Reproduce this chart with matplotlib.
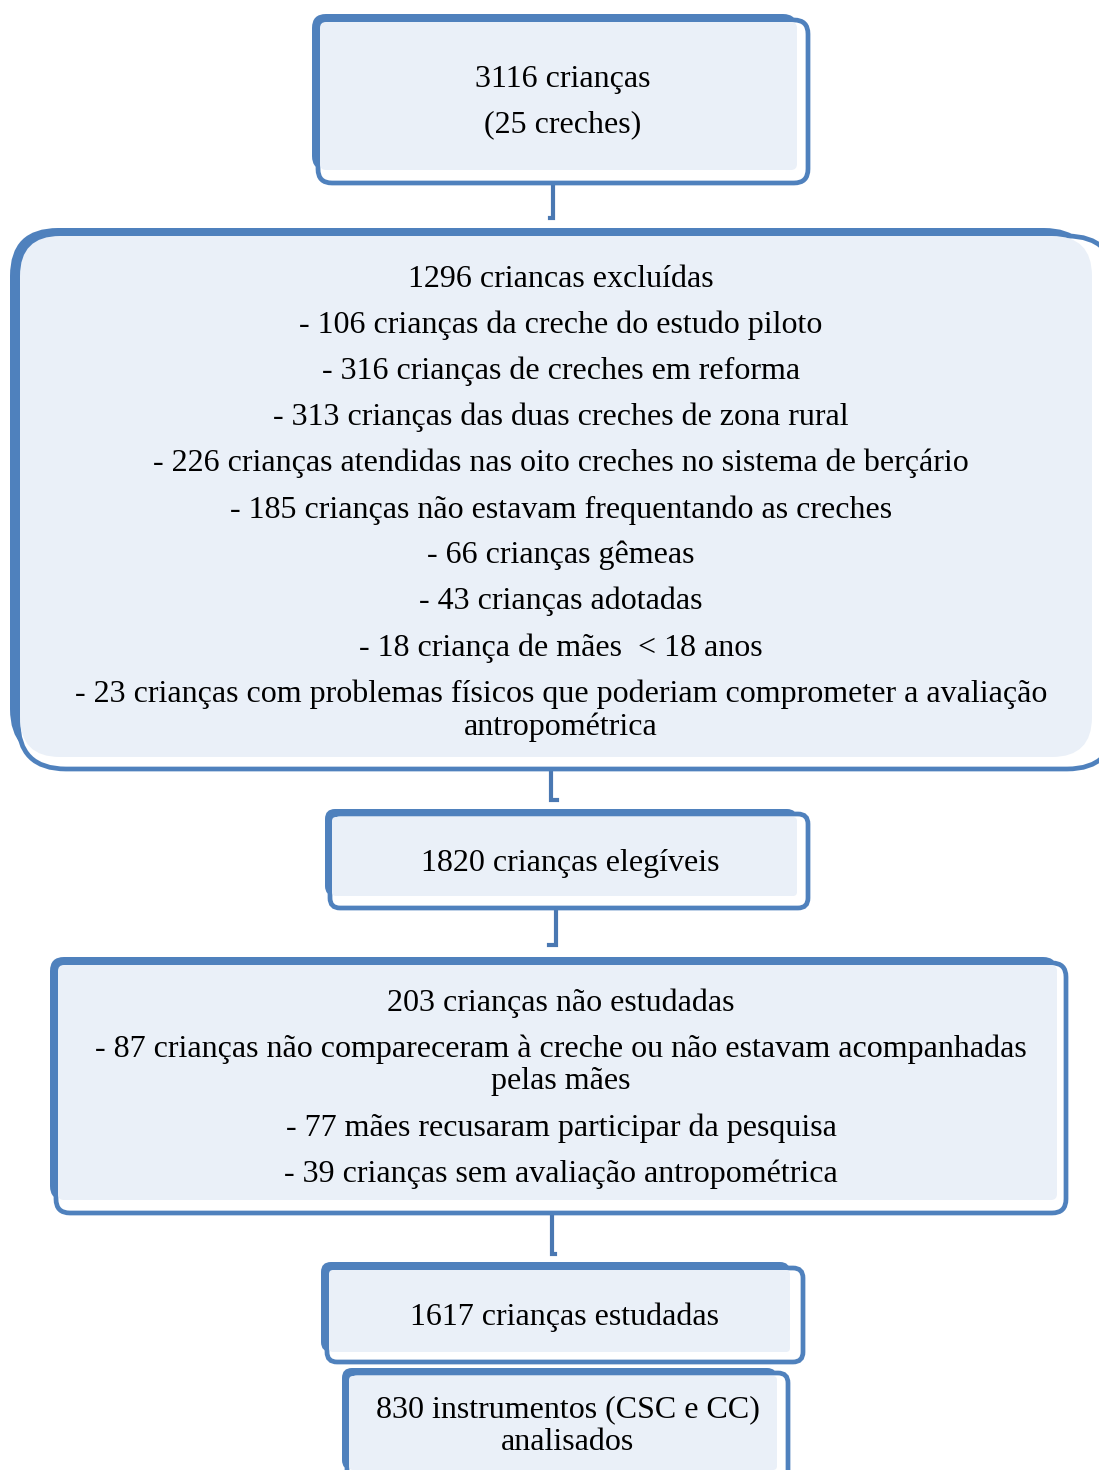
import matplotlib.pyplot as plt
from matplotlib.patches import FancyBboxPatch

plt.rcParams['font.family'] = ['Liberation Serif', 'DejaVu Serif']

AZUL = '#4F81BD'
FUNDO = '#EAF0F8'

# textos de cada caixa, linha a linha
caixa1 = ['3116 crianças', '(25 creches)']
caixa2 = ['1296 criancas excluídas',
          '- 106 crianças da creche do estudo piloto',
          '- 316 crianças de creches em reforma',
          '- 313 crianças das duas creches de zona rural',
          '- 226 crianças atendidas nas oito creches no sistema de berçário',
          '- 185 crianças não estavam frequentando as creches',
          '- 66 crianças gêmeas',
          '- 43 crianças adotadas',
          '- 18 criança de mães  < 18 anos',
          '- 23 crianças com problemas físicos que poderiam comprometer a avaliação',
          'antropométrica']
caixa3 = ['1820 crianças elegíveis']
caixa4 = ['203 crianças não estudadas',
          '- 87 crianças não compareceram à creche ou não estavam acompanhadas',
          'pelas mães',
          '- 77 mães recusaram participar da pesquisa',
          '- 39 crianças sem avaliação antropométrica']
caixa5 = ['1617 crianças estudadas']
caixa6 = ['830 instrumentos (CSC e CC)', 'analisados']

# y (px) de cada linha
y1 = [79, 125]
y2 = [279, 325, 371, 417, 463, 510, 555, 601, 648, 694, 727]
y3 = [863]
y4 = [1003, 1049, 1082, 1128, 1174]
y5 = [1317]
y6 = [1410, 1443]

fig = plt.figure(figsize=(10.99, 14.70), dpi=100)
ax = fig.add_axes([0, 0, 1, 1])
ax.set_xlim(0, 1099)
ax.set_ylim(1470, 0)
ax.axis('off')


def caixa(fundo, contorno, r, linhas, ys, xc):
    # fundo = (x0, y0, x1, y1) da forma azul de tras; contorno = caixa com borda
    x0, y0, x1, y1 = fundo
    ax.add_patch(FancyBboxPatch((x0, y0), x1 - x0, y1 - y0,
                                boxstyle='round,pad=0,rounding_size=%d' % r,
                                fc=AZUL, ec='none', zorder=1))
    cx0, cy0, cx1, cy1 = contorno
    ax.add_patch(FancyBboxPatch((cx0, cy0), cx1 - cx0, cy1 - cy0,
                                boxstyle='round,pad=0,rounding_size=%d' % r,
                                fc='white', ec=AZUL, lw=3.4, zorder=2))
    ax.add_patch(FancyBboxPatch((cx0 + 2, y0 + 8), x1 - cx0 - 2, y1 - y0 - 8,
                                boxstyle='round,pad=0,rounding_size=%d' % max(r - 8, 4),
                                fc=FUNDO, ec='none', zorder=3))
    for t, y in zip(linhas, ys):
        ax.text(xc, y, t, ha='center', va='center', fontsize=23, color='black', zorder=5)


def ligacao(x, ya, yb, gancho):
    ax.plot([x, x, x + gancho], [ya, yb, yb], color='#4A78B2', lw=3, zorder=0,
            solid_joinstyle='miter')


caixa((312, 14, 797, 170), (318, 20, 808, 183), 14, caixa1, y1, 563)
caixa((10, 228, 1092, 757), (18, 236, 1115, 769), 48, caixa2, y2, 561)
caixa((325, 809, 797, 896), (330, 814, 808, 908), 10, caixa3, y3, 570)
caixa((50, 957, 1057, 1200), (56, 963, 1066, 1213), 14, caixa4, y4, 561)
caixa((321, 1262, 790, 1352), (327, 1268, 803, 1362), 10, caixa5, y5, 565)
caixa((342, 1368, 777, 1470), (347, 1373, 788, 1500), 10, caixa6, y6, 568)

ligacao(553, 183, 218, -3)
ligacao(551, 769, 800, 6)
ligacao(556, 908, 945, -7)
ligacao(552, 1213, 1254, 3)

fig.savefig('out.png', dpi=100)
